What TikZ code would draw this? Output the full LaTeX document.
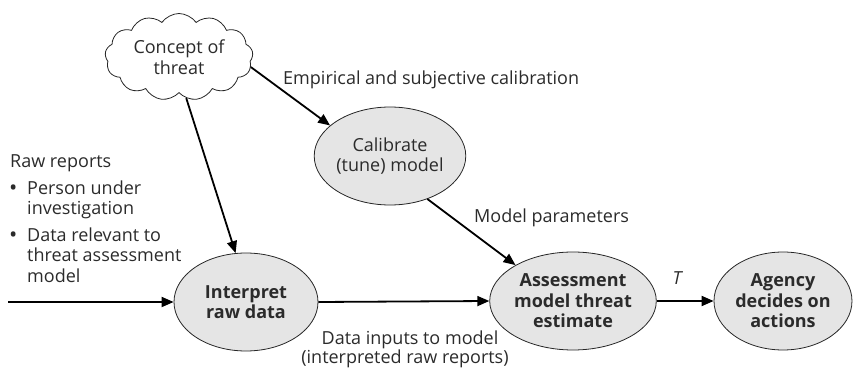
\documentclass[tikz,border=0pt]{standalone}
\usepackage{fontspec}
\setmainfont{Open Sans}
\usetikzlibrary{shapes.geometric,shapes.symbols,arrows.meta}
\definecolor{txt}{HTML}{2B2B2B}
\begin{document}
\begin{tikzpicture}[x=1pt,y=-1pt,
  every node/.style={text=txt, font=\fontsize{18}{20.5}\selectfont},
  proc/.style={ellipse, draw=black!85, line width=0.8pt, fill=black!10,
    minimum width=144pt, minimum height=98pt, inner sep=0pt, align=center},
  conn/.style={line width=1.8pt, draw=black, -{Triangle[length=12pt,width=10pt]}},
  lbl/.style={inner sep=0pt, anchor=base west},
  lblc/.style={inner sep=0pt, anchor=base}]
\useasboundingbox (0,0) rectangle (855,371);
% nodes
\node[cloud, cloud puffs=13, cloud puff arc=110, cloud ignores aspect, draw=black!85, line width=0.8pt, fill=white,
  minimum width=148pt, minimum height=87pt, inner sep=0pt, align=center] (cloud) at (179,57) {Concept of\\threat};
\node[proc] (calib) at (390,156) {Calibrate\\(tune) model};
\node[proc, font=\fontsize{18}{20.5}\selectfont\bfseries] (interp) at (246,302) {Interpret\\raw data};
\node[proc, font=\fontsize{18}{20.5}\selectfont\bfseries] (assess) at (573,301) {Assessment\\model threat\\estimate};
\node[proc, minimum width=138pt, font=\fontsize{18}{20.5}\selectfont\bfseries] (agency) at (783,301) {Agency\\decides on\\actions};
\coordinate (in) at (8,302);
% connectors
\draw[conn] (in) -- (interp.west);
\draw[conn] (interp.east) -- (assess.west);
\draw[conn] (assess.east) -- (agency.west);
\draw[conn] (cloud.-80) -- (interp.102);
\draw[conn] (cloud.-8) -- (calib.153);
\draw[conn] (calib.-49) -- (assess.148);
% labels
\node[lbl] (lemp) at (283,85) {Empirical and subjective calibration};
\node[lbl] (lmp) at (474,223) {Model parameters};
\node[lblc] (ldi1) at (410,345) {Data inputs to model};
\node[lblc] (ldi2) at (405,364) {(interpreted raw reports)};
\node[lblc, font=\fontsize{18}{20.5}\selectfont\itshape] (lt) at (677,285) {T};
\node[lbl] (lraw) at (10,168) {Raw reports};
\node[lbl, font=\fontsize{22}{20}\selectfont] (b1) at (9,196) {\textbullet};
\node[lbl] (r1) at (27,195) {Person under};
\node[lbl] (r2) at (27,215) {investigation};
\node[lbl, font=\fontsize{22}{20}\selectfont] (b2) at (9,243) {\textbullet};
\node[lbl] (r3) at (27,242) {Data relevant to};
\node[lbl] (r4) at (27,262) {threat assessment};
\node[lbl] (r5) at (27,283) {model};
\end{tikzpicture}
\end{document}
